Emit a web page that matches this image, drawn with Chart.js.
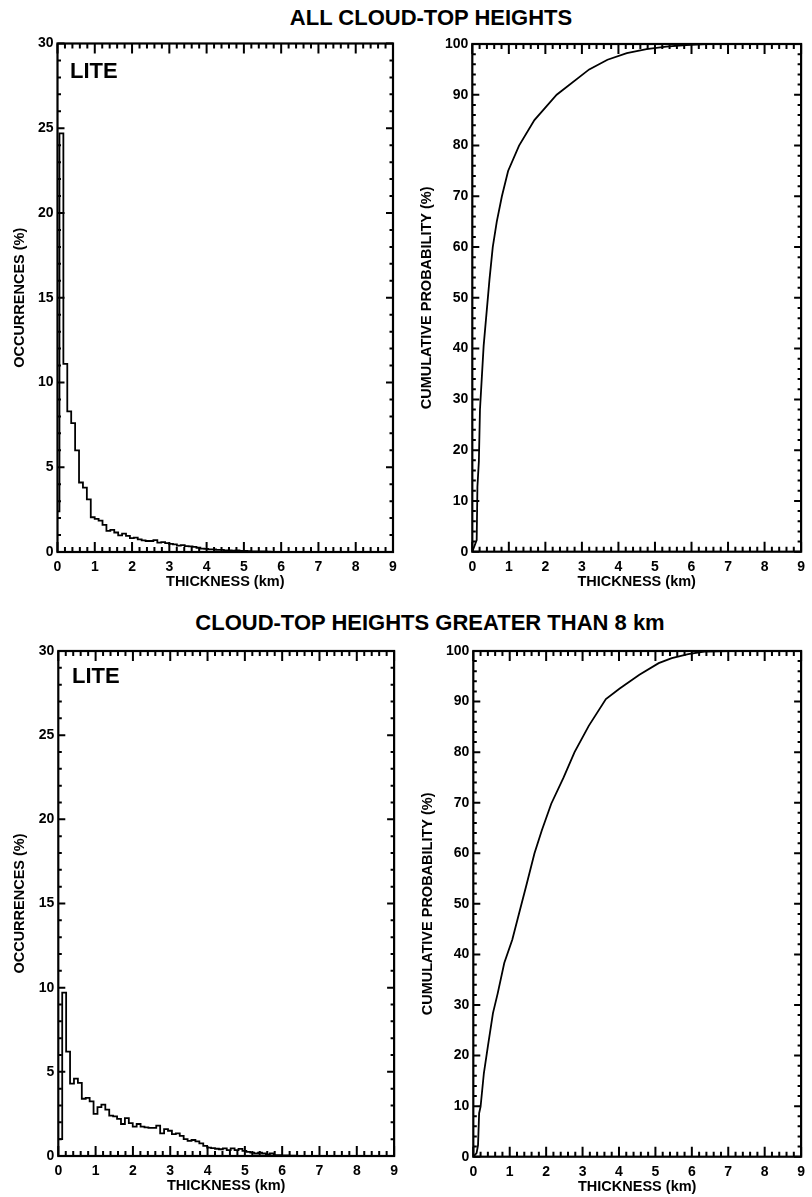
<!DOCTYPE html>
<html>
<head>
<meta charset="utf-8">
<title>LITE cloud thickness</title>
<script src="https://cdn.jsdelivr.net/npm/chart.js@4.4.0/dist/chart.umd.min.js"></script>
<style>
    body { margin: 0; background: #fff; }
    #page { position: relative; width: 812px; height: 1197px; overflow: hidden;
            font-family: "Liberation Sans", Arial, Helvetica, sans-serif; font-weight: bold; color: #000; }
    .panel { position: absolute; }
    .title { position: absolute; font-size: 22px; line-height: 22px; white-space: nowrap; transform: translateX(-50%); }
    .lite { position: absolute; font-size: 22px; line-height: 22px; }
</style>
</head>
<body>
<div id="page">
    <div class="title" style="left:431px; top:7px;">ALL CLOUD-TOP HEIGHTS</div>
    <div class="title" style="left:430px; top:612px;">CLOUD-TOP HEIGHTS GREATER THAN 8 km</div>

    <canvas id="histAll" class="panel" width="405" height="580" style="left:0px; top:30px;"></canvas>
    <canvas id="cumAll" class="panel" width="404" height="580" style="left:408px; top:30px;"></canvas>
    <canvas id="histHigh" class="panel" width="405" height="561" style="left:0px; top:636px;"></canvas>
    <canvas id="cumHigh" class="panel" width="404" height="561" style="left:408px; top:636px;"></canvas>

    <div class="lite" style="left:70px; top:60px;">LITE</div>
    <div class="lite" style="left:72px; top:665px;">LITE</div>
</div>

<script>
// histogram bins (km)
var binWidth = 0.105;
var histAllFirstCentre = 0;        // first bin is centred on 0, so only half of it shows
var histHighFirstCentre = 0.0525;  // bins start at 0

// occurrences (%) per bin, all cloud-top heights
var histAllValues = [2.4, 24.7, 11.1, 8.3, 7.6, 6.0, 4.1, 3.8, 3.1, 2.05,
    1.95, 1.85, 1.6, 1.25, 1.3, 1.15, 0.98, 1.08, 0.95, 0.82,
    0.85, 0.75, 0.68, 0.65, 0.65, 0.7, 0.55, 0.58, 0.52, 0.48,
    0.45, 0.38, 0.4, 0.35, 0.33, 0.3, 0.25, 0.2, 0.18, 0.15,
    0.16, 0.12, 0.13, 0.1, 0.1, 0.08, 0.1, 0.06, 0.07, 0.05,
    0.04, 0.04, 0.03, 0.03, 0.02, 0.01, 0.01];

// occurrences (%) per bin, cloud tops above 8 km
var histHighValues = [1.0, 9.7, 6.2, 4.3, 4.6, 4.35, 3.4, 3.45, 3.25, 2.5,
    2.9, 3.05, 2.75, 2.4, 2.35, 2.2, 1.9, 2.25, 1.95, 1.75,
    1.9, 1.75, 1.7, 1.67, 1.67, 1.8, 1.35, 1.6, 1.5, 1.3,
    1.35, 1.2, 1.0, 0.9, 0.95, 0.87, 0.75, 0.6, 0.5, 0.47,
    0.43, 0.4, 0.45, 0.35, 0.45, 0.35, 0.42, 0.3, 0.25, 0.2,
    0.15, 0.2, 0.15, 0.1, 0.15, 0.05, 0.05, 0.04, 0.03, 0.02,
    0.02, 0.01, 0.01];

// cumulative probability (%), all cloud-top heights
var cumAllX = [0, 0.12, 0.14, 0.18, 0.21, 0.31, 0.47, 0.56, 0.67, 0.81, 0.98, 1.28,
    1.70, 2.31, 3.20, 3.70, 4.23, 4.77, 5.31, 5.85, 6.40, 7.50];
var cumAllY = [0, 2.3, 12.8, 17.8, 28.0, 40.5, 53.6, 60.0, 65.0, 70.0, 75.0, 80.0,
    85.0, 90.0, 95.0, 96.9, 98.2, 99.0, 99.5, 99.8, 100, 100];

// cumulative probability (%), cloud tops above 8 km
var cumHighX = [0, 0.09, 0.13, 0.16, 0.20, 0.29, 0.40, 0.54, 0.67, 0.85, 1.07, 1.27, 1.45, 1.68,
    1.88, 2.14, 2.48, 2.78, 3.17, 3.64, 4.02, 4.56, 5.09, 5.45, 5.90, 6.34, 7.00, 7.60];
var cumHighY = [0, 0.7, 2.3, 8.6, 9.9, 16.5, 21.8, 28.4, 32.3, 38.3, 42.9, 48.5, 53.5, 60.0,
    64.5, 69.8, 75.0, 80.0, 85.2, 90.5, 92.6, 95.3, 97.6, 98.6, 99.4, 99.9, 100, 100];

var xTitle = 'THICKNESS (km)';
var histTitle = 'OCCURRENCES (%)';
var cumTitle = 'CUMULATIVE PROBABILITY (%)';

var FAMILY = '"Liberation Sans", Arial, Helvetica, sans-serif';
var X_AXIS_H = 40;

// histogram -> step points at the left edge of each bin
function histPoints(values, firstCentre) {
    var pts = values.map(function (v, i) {
        return { x: Math.max(0, firstCentre + (i - 0.5) * binWidth), y: v };
    });
    var last = values.length - 1;
    pts.push({ x: firstCentre + (last + 0.5) * binWidth, y: values[last] });
    return pts;
}

function curvePoints(xs, ys) {
    return xs.map(function (x, i) { return { x: x, y: ys[i] }; });
}

// IDL-style box: frame plus inward ticks on all four sides
function boxTicks(xMinor, yMinor) {
    return {
        id: 'boxTicks',
        afterDatasetsDraw: function (chart) {
            var ctx = chart.ctx;
            var a = chart.chartArea;
            var xs = chart.scales.x, ys = chart.scales.y;
            var xLen = Math.round((a.bottom - a.top) * 0.02);
            var yLen = Math.round((a.right - a.left) * 0.02);
            ctx.save();
            ctx.strokeStyle = '#000';
            ctx.lineWidth = 2;
            var n = Math.round((xs.max - xs.min) / xMinor);
            for (var i = 0; i <= n; i++) {
                var px = xs.getPixelForValue(xs.min + i * xMinor);
                var l = (i % 5 === 0) ? xLen : xLen / 2;
                ctx.beginPath();
                ctx.moveTo(px, a.bottom); ctx.lineTo(px, a.bottom - l);
                ctx.moveTo(px, a.top); ctx.lineTo(px, a.top + l);
                ctx.stroke();
            }
            var m = Math.round((ys.max - ys.min) / yMinor);
            for (var j = 0; j <= m; j++) {
                var py = ys.getPixelForValue(ys.min + j * yMinor);
                var k = (j % 5 === 0) ? yLen : yLen / 2;
                ctx.beginPath();
                ctx.moveTo(a.left, py); ctx.lineTo(a.left + k, py);
                ctx.moveTo(a.right, py); ctx.lineTo(a.right - k, py);
                ctx.stroke();
            }
            ctx.lineWidth = 2.2;
            ctx.strokeRect(a.left, a.top, a.right - a.left, a.bottom - a.top);
            ctx.restore();
        }
    };
}

function makePanel(id, p) {
    var cv = document.getElementById(id);
    var cx = parseFloat(cv.style.left), cy = parseFloat(cv.style.top);
    var ctx = cv.getContext('2d');
    return new Chart(ctx, {
        type: 'line',
        data: {
            datasets: [{
                data: p.points,
                stepped: p.stepped,
                borderColor: '#000',
                borderWidth: 1.8,
                pointRadius: 0,
                fill: false,
                tension: 0
            }]
        },
        options: {
            responsive: false,
            animation: false,
            events: [],
            layout: {
                padding: {
                    left: 0,
                    top: p.T - cy,
                    right: cx + cv.width - p.R,
                    bottom: cy + cv.height - p.B - X_AXIS_H
                }
            },
            scales: {
                x: {
                    type: 'linear', min: 0, max: 9,
                    afterFit: function (s) { s.height = X_AXIS_H; },
                    grid: { display: false, drawTicks: false },
                    border: { display: false },
                    ticks: { stepSize: 1, color: '#000', padding: 7, maxRotation: 0, autoSkip: false,
                             font: { family: FAMILY, size: 14, weight: 'bold' } },
                    title: { display: true, text: xTitle, color: '#000',
                             padding: { top: 0, bottom: 1.3 },
                             font: { family: FAMILY, size: 14.5, weight: 'bold' } }
                },
                y: {
                    type: 'linear', min: 0, max: p.yMax,
                    afterFit: function (s) { s.width = p.L - cx; },
                    grid: { display: false, drawTicks: false },
                    border: { display: false },
                    ticks: { stepSize: p.yStep, color: '#000', padding: 4,
                             font: { family: FAMILY, size: 14, weight: 'bold' } },
                    title: { display: true, text: p.yTitle, color: '#000',
                             padding: { top: p.yTitleX - cx - 8.7, bottom: 0 },
                             font: { family: FAMILY, size: 14.5, weight: 'bold' } }
                }
            },
            plugins: {
                legend: { display: false },
                tooltip: { enabled: false }
            }
        },
        plugins: [boxTicks(0.2, p.yStep / 5)]
    });
}

makePanel('histAll', {
    L: 57.5, R: 393, T: 43.5, B: 552, yMax: 30, yStep: 5,
    yTitle: histTitle, yTitleX: 20, stepped: 'before',
    points: histPoints(histAllValues, histAllFirstCentre)
});
makePanel('cumAll', {
    L: 472.3, R: 807.5, T: 44, B: 551.7, yMax: 100, yStep: 10,
    yTitle: cumTitle, yTitleX: 427, stepped: false,
    points: curvePoints(cumAllX, cumAllY)
});
makePanel('histHigh', {
    L: 58.3, R: 395, T: 651, B: 1156, yMax: 30, yStep: 5,
    yTitle: histTitle, yTitleX: 20, stepped: 'before',
    points: histPoints(histHighValues, histHighFirstCentre)
});
makePanel('cumHigh', {
    L: 473.3, R: 809, T: 651, B: 1156.7, yMax: 100, yStep: 10,
    yTitle: cumTitle, yTitleX: 428, stepped: false,
    points: curvePoints(cumHighX, cumHighY)
});
</script>
</body>
</html>
